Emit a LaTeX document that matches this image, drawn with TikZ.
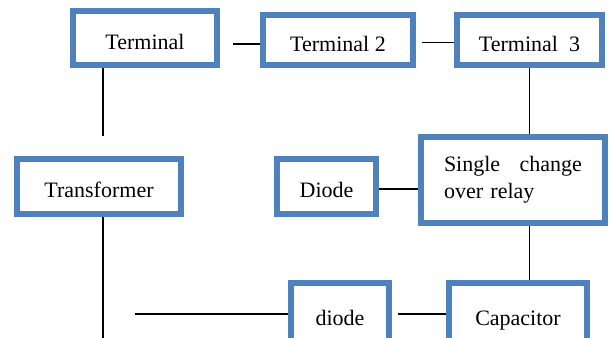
\documentclass[tikz,border=0pt]{standalone}
\usepackage{fontspec}
\newfontfamily\boxfont{Liberation Serif}
\definecolor{boxblue}{RGB}{79,129,189}

\begin{document}
\begin{tikzpicture}[x=0.5pt, y=-0.5pt,
  box/.style={draw=boxblue, line width=3pt, fill=white, inner sep=0pt, font=\boxfont\fontsize{11}{13.5}\selectfont},
  onebox/.style={box, text height=11pt, text depth=0pt},
  wire/.style={line width=0.8pt}]
\useasboundingbox (0,0) rectangle (609,337);
\node[onebox, minimum width=72pt, minimum height=27pt] (t1) at (145,38) {Terminal};
\node[onebox, minimum width=75pt, minimum height=25pt] (t2) at (338,40) {Terminal 2};
\node[onebox, minimum width=72.5pt, minimum height=25pt] (t3) at (529.5,40) {Terminal\ \ 3};
\node[onebox, minimum width=82pt, minimum height=27.5pt] (tr) at (99,186.5) {Transformer};
\node[onebox, minimum width=49.5pt, minimum height=27.5pt] (d1) at (326.5,186.5) {Diode};
\node[box, minimum width=92pt, minimum height=43pt, text width=69pt, align=left] (rl) at (513,180) {Single\hfill change\\over relay};
\node[onebox, minimum width=49pt, minimum height=31pt] (d2) at (340,314) {diode};
\node[onebox, minimum width=69pt, minimum height=31pt] (c1) at (518,314) {Capacitor};
\coordinate (lft) at (135,314);
\coordinate (bot) at (103,345);
\draw[wire, shorten <=6.3pt] ([yshift=-3pt]t1.east) -- ([yshift=-2pt]t2.west);
\draw[wire, shorten <=3.2pt] ([yshift=-1.2pt]t2.east) -- ([yshift=-1.2pt]t3.west);
\draw[wire, shorten >=10pt] ([xshift=2pt]tr.north |- t1.south) -- ([xshift=2pt]tr.north);
\draw[wire] ([xshift=2pt]tr.south) -- (bot);
\draw[wire] (t3.south) -- (t3.south |- rl.north);
\draw[wire] ([yshift=-1.2pt]d1.east) -- ([yshift=-1.2pt]d1.east -| rl.west);
\draw[wire] (rl.south -| t3.south) -- (c1.north -| t3.south);
\draw[wire] (lft) -- (d2.west);
\draw[wire, shorten <=3pt] (d2.east) -- (c1.west);
\end{tikzpicture}
\end{document}
